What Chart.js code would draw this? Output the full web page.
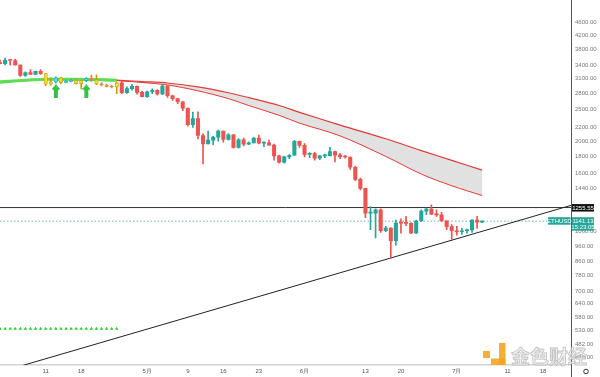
<!DOCTYPE html>
<html><head><meta charset="utf-8">
<script src="https://cdn.jsdelivr.net/npm/chart.js@4.4.0/dist/chart.umd.min.js"></script>
<style>html,body{margin:0;padding:0;background:#fff;overflow:hidden}canvas{display:block}</style>
</head><body>
<canvas id="c" width="600" height="377"></canvas>
<script>
// ---- data (daily candles, day index 0 = Apr 2) ----
const openP = [3450,3445,3522,3520,3410,3171,3232,3191,3261,3211,
 2982,3030,3118,3020,3040,3062,2990,3058,3104,3077,
 2986,2964,2935,2922,3008,2808,2889,2935,2816,2730,
 2827,2857,2783,2940,2749,2694,2636,2519,2245,2343,
 2080,1962,2014,2057,2145,2023,2090,1914,2018,1959,
 1976,2043,1972,1978,1944,1803,1725,1792,1812,1996,
 1942,1823,1834,1775,1804,1805,1859,1813,1793,1789,
 1665,1530,1436,1207,1208,1236,1068,1087,995,1127,
 1126,1124,1051,1143,1225,1243,1199,1193,1144,1098,
 1067,1060,1067,1074,1150,1134];
const highP = [3530,3580,3545,3555,3415,3250,3305,3270,3305,3215,
 3120,3140,3130,3070,3080,3085,3065,3125,3175,3185,
 3015,2980,2965,3025,3040,2925,2980,2945,2835,2840,
 2885,2870,2960,2950,2760,2698,2640,2525,2450,2455,
 2105,2145,2070,2160,2145,2110,2095,2035,2045,1990,
 2050,2085,1990,2015,1960,1815,1800,1820,2010,2000,
 1965,1845,1850,1810,1825,1915,1865,1835,1810,1790,
 1680,1545,1436,1265,1245,1245,1100,1090,1150,1160,
 1180,1130,1150,1235,1250,1280,1235,1215,1145,1115,
 1100,1085,1080,1155,1180,1145];
const lowP = [3435,3415,3405,3405,3150,3150,3185,3180,3190,2950,
 2960,3000,2990,3010,3030,2985,2885,3035,3040,2970,
 2945,2925,2905,2790,2790,2795,2860,2780,2725,2715,
 2790,2760,2770,2715,2660,2600,2475,2225,2200,2030,
 1705,1960,1950,2000,1985,2015,1905,1905,1935,1950,
 1975,1960,1925,1945,1750,1715,1715,1770,1810,1915,
 1790,1780,1750,1755,1780,1800,1730,1770,1775,1640,
 1515,1420,1170,1075,1015,1055,1060,880,965,1050,
 1105,1045,1045,1140,1195,1195,1180,1140,1075,1005,
 1035,1040,1050,1055,1085,1130];
const closeP = [3445,3522,3520,3410,3171,3232,3191,3261,3211,2982,
 3030,3118,3020,3040,3062,2990,3058,3104,3077,2986,
 2964,2935,2922,3008,2808,2889,2935,2816,2730,2827,
 2857,2783,2940,2749,2694,2636,2519,2245,2343,2080,
 1962,2014,2057,2145,2023,2090,1914,2018,1959,1976,
 2043,1972,1978,1944,1803,1725,1792,1812,1996,1942,
 1823,1834,1775,1804,1805,1859,1813,1793,1789,1665,
 1530,1436,1207,1208,1236,1068,1087,995,1127,1126,
 1124,1051,1143,1225,1243,1199,1193,1144,1098,1067,
 1060,1067,1074,1150,1134,1141.13];
// moving-average ribbon (read at sample days)
const maDays = [0,5,10,15,20,23,28,33,39,45,49,55,59,67,76,83,89,95];
const maFast = [3037,3069,3090,3090,3079,3069,3037,3006,2925,2807,2713,2567,2447,2238,2033,1872,1748,1632];
const maSlow = [3016,3058,3079,3079,3069,3058,3016,2965,2846,2694,2567,2397,2269,2075,1797,1588,1463,1366];
const greenUntilDay = 23;
const resistance = 1255.55;
const lastPrice = 1141.13;
const countdown = '15:23:05';
const symbol = 'ETHUSD';
const trendDays = [3.5, 112.5];
const trendPrices = [411, 1275];
const signalDays = [0,1,2,3,4,5,6,7,8,9,10,11,12,13,14,15,16,17,18,19,20,21,22,23];
const signalPrice = 537;
const arrowDays = [11, 17];
const arrowPrice = 2836;
const xTickDays = [9,16,29,37,44,51,60,72,79,90,100,107];
const xTickLabels = ['11','18','5月','9','16','23','6月','13','20','7月','11','18'];
const yTicks = [4600,4200,3800,3400,3100,2800,2500,2200,2000,1800,1600,1440,1060,960,860,780,700,640,580,530,482,440];
const watermark = '金色财经';

// ---- styling ----
const UP = '#26a69a', DOWN = '#ef5350';
const tint = {9:'y',10:'y',11:'c',12:'y',13:'c',14:'c',15:'y',16:'y',17:'c',18:'o',19:'y',20:'o',21:'o',22:'o',23:'y'};
const tintFill = {y:'#f6dc3c', c:'#5fe2ea', o:'#f2a158'};
const tintEdge = {y:'#c99f00', c:'#1fb0c0', o:'#e07f30'};
const days = openP.map((_, i) => i);
const bodyFill = days.map(i => tint[i] ? tintFill[tint[i]] : (closeP[i] >= openP[i] ? UP : DOWN));
const bodyEdge = days.map(i => tint[i] ? tintEdge[tint[i]] : (closeP[i] >= openP[i] ? UP : DOWN));

function makeArrow(){
  const c = document.createElement('canvas'); c.width = 8; c.height = 14;
  const g = c.getContext('2d');
  g.fillStyle = '#2fd03a'; g.strokeStyle = '#1c9e2a'; g.lineWidth = 0.8;
  g.beginPath(); g.moveTo(4,0.5); g.lineTo(7.6,5); g.lineTo(5.4,5); g.lineTo(5.4,13.6);
  g.lineTo(2.6,13.6); g.lineTo(2.6,5); g.lineTo(0.4,5); g.closePath(); g.fill(); g.stroke();
  return c;
}
const arrowImg = makeArrow();

Chart.defaults.font.family = '"Liberation Sans", Arial, sans-serif';

const overlay = {
  id: 'overlay',
  afterDraw(chart){
    const {ctx, chartArea, scales:{y}} = chart;
    const ax = chartArea.right;
    ctx.save();
    // price axis line full height
    ctx.strokeStyle = '#555'; ctx.lineWidth = 1;
    ctx.beginPath(); ctx.moveTo(ax + 0.5, 0); ctx.lineTo(ax + 0.5, 377); ctx.stroke();
    ctx.font = '6px "Liberation Sans", Arial, sans-serif';
    ctx.textAlign = 'center'; ctx.textBaseline = 'middle';
    // resistance label
    const yr = y.getPixelForValue(resistance);
    ctx.fillStyle = '#111'; ctx.fillRect(ax + 1, yr - 3.5, 22, 7.5);
    ctx.fillStyle = '#fff'; ctx.fillText(resistance.toFixed(2), ax + 12, yr + 0.3);
    // last price label
    const yp = y.getPixelForValue(lastPrice);
    ctx.fillStyle = UP; ctx.fillRect(ax + 1, yp - 4, 22, 13.5);
    ctx.fillRect(ax - 23, yp - 4, 22.5, 7.5);
    ctx.fillStyle = '#fff';
    ctx.fillText(lastPrice.toFixed(2), ax + 12, yp - 0.2);
    ctx.fillText(countdown, ax + 12, yp + 5.8);
    ctx.fillText(symbol, ax - 11.7, yp - 0.2);
    // settings gear
    ctx.strokeStyle = '#333'; ctx.lineWidth = 1;
    ctx.beginPath(); ctx.arc(586, 371.5, 2.3, 0, Math.PI * 2); ctx.stroke();
    // watermark
    ctx.fillStyle = 'rgba(243,166,30,0.9)';
    ctx.fillRect(483, 351, 7, 7);
    ctx.fillRect(499, 343, 6.5, 22);
    ctx.fillRect(491, 358.5, 14.5, 6.5);
    ctx.font = 'bold 19px "Noto Sans CJK SC", sans-serif';
    ctx.textAlign = 'left'; ctx.textBaseline = 'middle';
    ctx.fillStyle = 'rgba(235,235,235,0.75)';
    ctx.strokeStyle = 'rgba(170,170,170,0.7)'; ctx.lineWidth = 0.8;
    ctx.fillText(watermark, 511, 357);
    ctx.strokeText(watermark, 511, 357);
    ctx.restore();
  }
};

new Chart(document.getElementById('c'), {
  type: 'bar',
  data: {
    datasets: [
      { type:'bar', label:'body', order:0, grouped:false,
        data: days.map(i => ({x:i, y:[Math.min(openP[i], closeP[i]), Math.max(openP[i], closeP[i])]})),
        backgroundColor: bodyFill, borderColor: bodyEdge,
        borderWidth: days.map(i => tint[i] ? 0.8 : 0), borderSkipped: false,
        barThickness: 3.4, minBarLength: 1 },
      { type:'bar', label:'wick', order:1, grouped:false,
        data: days.map(i => ({x:i, y:[lowP[i], highP[i]]})),
        backgroundColor: bodyEdge, borderWidth: 0, barThickness: 1, minBarLength: 1 },
      { type:'line', label:'fast', order:5,
        data: maDays.map((d,i) => ({x:d, y:maFast[i]})),
        borderColor: DOWN, borderWidth: 1.2, pointRadius: 0, tension: 0.35, fill: false,
        segment: { borderColor: c => c.p1.parsed.x <= greenUntilDay ? '#5fdc55' : '#e53935',
                   borderWidth: c => c.p1.parsed.x <= greenUntilDay ? 2.6 : 1.2 } },
      { type:'line', label:'slow', order:6,
        data: maDays.map((d,i) => ({x:d, y:maSlow[i]})),
        borderColor: DOWN, borderWidth: 1, pointRadius: 0, tension: 0.35,
        fill: '-1', backgroundColor: 'rgba(200,200,200,0.55)',
        segment: { borderColor: c => c.p1.parsed.x <= greenUntilDay ? '#5fdc55' : '#e53935',
                   borderWidth: c => c.p1.parsed.x <= greenUntilDay ? 2.6 : 1 } },
      { type:'line', label:'resistance', order:4,
        data: [{x:0, y:resistance}, {x:112.5, y:resistance}],
        borderColor:'#333', borderWidth:1, pointRadius:0 },
      { type:'line', label:'price', order:4,
        data: [{x:0, y:lastPrice}, {x:112.5, y:lastPrice}],
        borderColor:'rgba(38,166,154,0.75)', borderWidth:1, borderDash:[1.5,2], pointRadius:0 },
      { type:'line', label:'trend', order:3,
        data: trendDays.map((d,i) => ({x:d, y:trendPrices[i]})),
        borderColor:'#222', borderWidth:1, pointRadius:0 },
      { type:'scatter', label:'signals', order:2,
        data: signalDays.map(d => ({x:d, y:signalPrice})),
        pointStyle:'triangle', pointRadius:1.9, backgroundColor:'#19d019', borderWidth:0 },
      { type:'scatter', label:'arrows', order:2,
        data: arrowDays.map(d => ({x:d, y:arrowPrice})),
        pointStyle: arrowImg, pointRadius: 7 }
    ]
  },
  options: {
    responsive:false, animation:false, events:[],
    layout:{ padding:0, autoPadding:false },
    plugins:{ legend:{display:false}, tooltip:{enabled:false} },
    scales:{
      x:{ type:'linear', min:0, max:112.5, offset:false,
          grid:{display:false, drawTicks:false},
          border:{display:true, color:'#d2d2d2', width:1.5},
          ticks:{ font:{size:6}, color:'#555', padding:3, autoSkip:false, maxRotation:0,
                  callback:(v,i) => xTickLabels[i] },
          afterBuildTicks: s => { s.ticks = xTickDays.map(v => ({value:v})); },
          afterFit: s => { s.height = 12; } },
      y:{ type:'logarithmic', position:'right', min:416.5, max:5099,
          grid:{display:false, drawTicks:false}, border:{display:false},
          ticks:{ font:{size:6}, color:'#777', padding:4, autoSkip:false,
                  callback: v => Number(v).toFixed(2) },
          afterBuildTicks: s => { s.ticks = yTicks.map(v => ({value:v})); },
          afterFit: s => { s.width = 29; } }
    }
  },
  plugins:[overlay]
});
</script>
</body></html>
